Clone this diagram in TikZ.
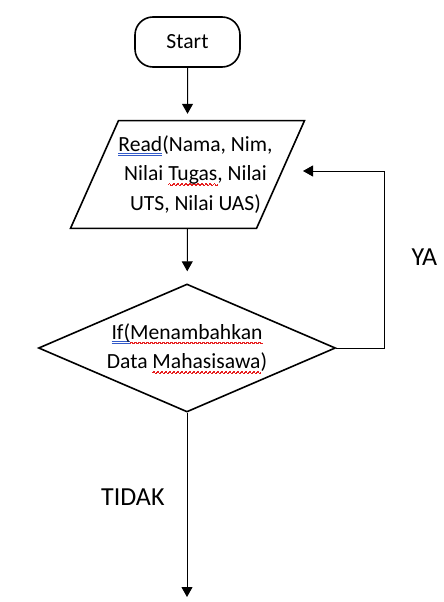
\documentclass[tikz,border=0pt]{standalone}
\usepackage{fontspec}
\setmainfont{Carlito}
\usetikzlibrary{shapes.geometric,arrows.meta}
\definecolor{spellred}{RGB}{230,30,30}
\definecolor{spellblue}{RGB}{50,90,200}
\newsavebox\spellbox
\newcommand\wavebit{\hbox{\setlength\unitlength{1pt}\linethickness{0.6pt}\begin{picture}(4,0)\qbezier(0,0)(1,1.6)(2,0)\qbezier(2,0)(3,-1.6)(4,0)\end{picture}}}
\newcommand\redwave[1]{\sbox\spellbox{#1}\leavevmode\rlap{\lower3.5pt\hbox to\wd\spellbox{\color{spellred}\xleaders\wavebit\hfill}}\usebox\spellbox}
\newcommand\blueuu[1]{\sbox\spellbox{#1}\leavevmode\rlap{\color{spellblue}\rule[-2pt]{\wd\spellbox}{0.5pt}}\rlap{\color{spellblue}\rule[-4pt]{\wd\spellbox}{0.5pt}}\usebox\spellbox}
\newcommand\pad{\hspace*{16pt}}

\begin{document}
\begin{tikzpicture}[line width=1pt,>={Triangle[width=11pt,length=10pt]},
  box/.style={draw,line width=1.6pt,align=center,font=\fontsize{21.6}{29.5}\selectfont},
  lbl/.style={inner sep=0pt,font=\fontsize{26}{30}\selectfont}]
  \useasboundingbox (0pt,0pt) rectangle (444pt,-602pt);
  \draw (187.5pt, -42pt)node[box,rounded corners=18pt,minimum width=105pt,minimum height=50pt](start){Start};
  \draw (187.5pt, -174.5pt)node[box,trapezium,trapezium left angle=66,trapezium right angle=114,trapezium stretches body,minimum width=229pt,minimum height=103pt,inner xsep=-16pt,inner ysep=15pt](read){\pad\blueuu{Read}(Nama, Nim,\\\pad Nilai \redwave{Tugas}, Nilai\\\pad UTS, Nilai UAS)};
  \draw (187pt, -348pt)node[box,diamond,aspect=2.32,inner sep=0pt,minimum width=297pt,minimum height=128pt](cek){\blueuu{If(}\redwave{Menambahkan}\\Data \redwave{Mahasisawa})};
  \coordinate (corner) at (384pt, -348pt);
  \coordinate (back) at (303pt, -171pt);
  \coordinate (end) at (187pt, -597pt);
  \path[->] (start) edge[shorten >=6pt] (read);
  \path[->] (read) edge[shorten >=12pt] (cek);
  \draw[->] (cek.east) -- (corner) |- node[lbl,pos=0.256,right=27pt]{YA} (back);
  \path[->] (cek) edge node[lbl,pos=0.46,left=22pt]{TIDAK} (end);
\end{tikzpicture}
\end{document}
